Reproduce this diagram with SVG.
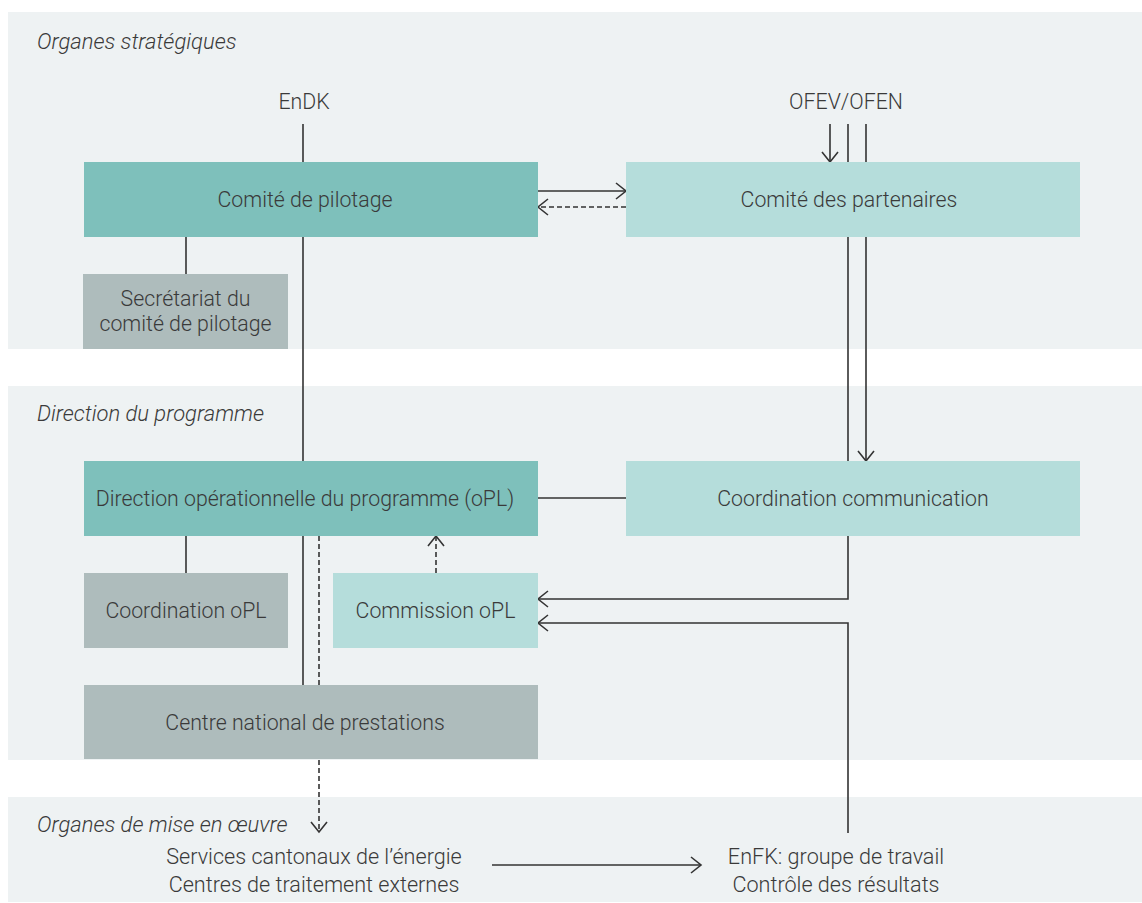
<svg xmlns="http://www.w3.org/2000/svg" width="1142" height="903" viewBox="0 0 1142 903">
<style>
.band{fill:#eef2f3}
.dark{fill:#7ec0bb}
.light{fill:#b5dddb}
.grey{fill:#aebcbc}
text{font-family:Roboto,"Liberation Sans",sans-serif;font-size:21.3px;fill:#3a3a3a;font-weight:300}
.c{text-anchor:middle}
.sec{font-style:italic;font-size:22px}
.bot{font-size:21.6px}
.ln{fill:none;stroke:#333;stroke-width:1.6}
.dash{stroke-dasharray:5 3}
</style>
<defs>
<marker id="ah" markerUnits="userSpaceOnUse" markerWidth="24" markerHeight="24" viewBox="-12 -12 24 24" refX="0" refY="0" orient="auto">
<path d="M-10,-8 L0,0 L-10,8" fill="none" stroke="#333" stroke-width="1.6" stroke-dasharray="none"/>
</marker>
</defs>
<g id="bands">
<rect class="band" x="8" y="12" width="1134" height="337"/>
<rect class="band" x="8" y="386" width="1134" height="374"/>
<rect class="band" x="8" y="797" width="1134" height="105"/>
<text class="sec" x="37" y="49">Organes stratégiques</text>
<text class="sec" x="37" y="421">Direction du programme</text>
<text class="sec" x="37" y="832">Organes de mise en œuvre</text>
</g>
<g id="connectors">
<line class="ln" x1="303" y1="124" x2="303" y2="685"/>
<line class="ln" x1="186" y1="237" x2="186" y2="274"/>
<line class="ln" x1="186" y1="536" x2="186" y2="573"/>
<line class="ln" x1="538" y1="191" x2="626" y2="191" marker-end="url(#ah)"/>
<line class="ln dash" x1="626" y1="207" x2="538" y2="207" marker-end="url(#ah)"/>
<line class="ln" x1="830" y1="124" x2="830" y2="162" marker-end="url(#ah)"/>
<line class="ln" x1="848" y1="124" x2="848" y2="461"/>
<line class="ln" x1="866" y1="124" x2="866" y2="461" marker-end="url(#ah)"/>
<line class="ln" x1="538" y1="498" x2="626" y2="498"/>
<line class="ln dash" x1="436" y1="573" x2="436" y2="536" marker-end="url(#ah)"/>
<line class="ln dash" x1="319" y1="536" x2="319" y2="832" marker-end="url(#ah)"/>
<polyline class="ln" points="848,536 848,599 538,599" marker-end="url(#ah)"/>
<polyline class="ln" points="848,833 848,623 538,623" marker-end="url(#ah)"/>
<line class="ln" x1="492" y1="865" x2="701" y2="865" marker-end="url(#ah)"/>
</g>
<g id="endk"><text class="c" x="304" y="109">EnDK</text></g>
<g id="ofev"><text class="c" x="846" y="109">OFEV/OFEN</text></g>
<g id="comite-pilotage"><rect class="dark" x="84" y="162" width="454" height="75"/><text class="c" x="305" y="207">Comité de pilotage</text></g>
<g id="comite-partenaires"><rect class="light" x="626" y="162" width="454" height="75"/><text class="c" x="849" y="207">Comité des partenaires</text></g>
<g id="secretariat"><rect class="grey" x="83" y="274" width="205" height="75"/><text class="c" x="185.5" y="306">Secrétariat du</text><text class="c" x="185.5" y="331">comité de pilotage</text></g>
<g id="direction-op"><rect class="dark" x="84" y="461" width="454" height="75"/><text class="c" x="305" y="506">Direction opérationnelle du programme (oPL)</text></g>
<g id="coord-comm"><rect class="light" x="626" y="461" width="454" height="75"/><text class="c" x="853" y="506">Coordination communication</text></g>
<g id="coord-opl"><rect class="grey" x="84" y="573" width="204" height="75"/><text class="c" x="186" y="618">Coordination oPL</text></g>
<g id="commission-opl"><rect class="light" x="333" y="573" width="205" height="75"/><text class="c" x="435.5" y="618">Commission oPL</text></g>
<g id="centre-national"><rect class="grey" x="84" y="685" width="454" height="74"/><text class="c" x="305" y="730">Centre national de prestations</text></g>
<g id="services"><text class="c bot" x="314" y="864">Services cantonaux de l’énergie</text><text class="c bot" x="314" y="892">Centres de traitement externes</text></g>
<g id="enfk"><text class="c bot" x="836" y="864">EnFK: groupe de travail</text><text class="c bot" x="836" y="892">Contrôle des résultats</text></g>
</svg>
